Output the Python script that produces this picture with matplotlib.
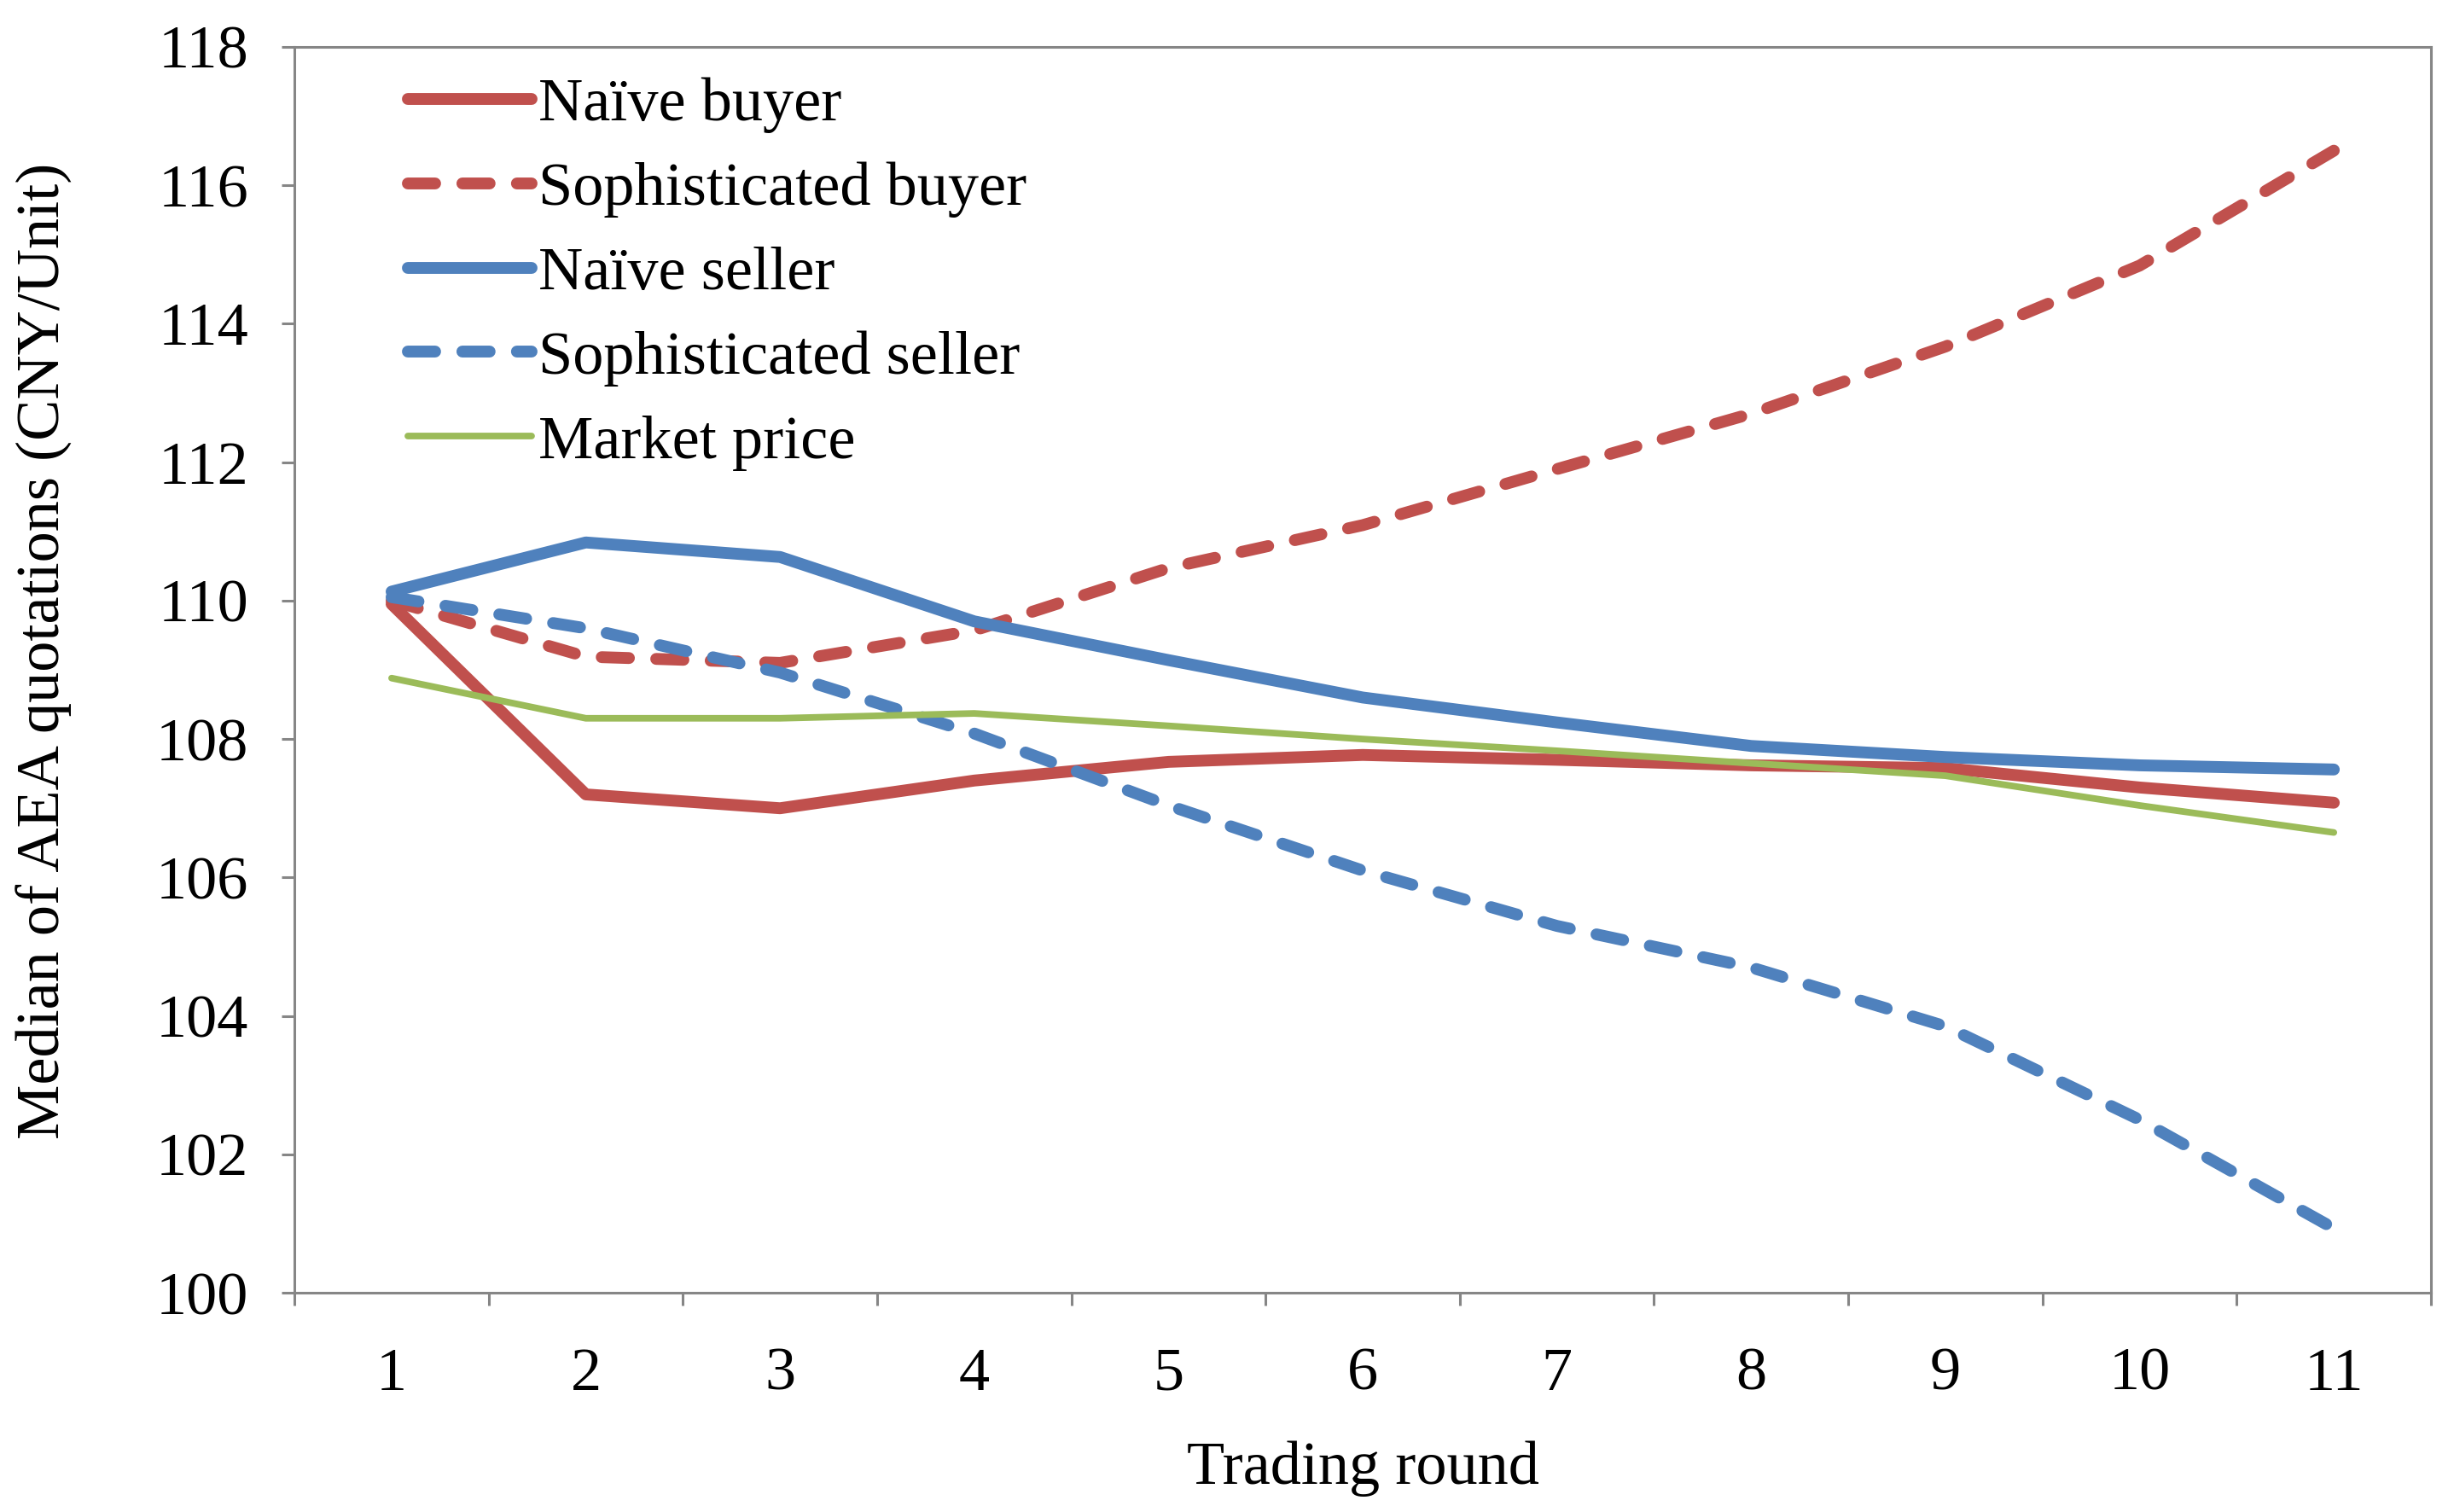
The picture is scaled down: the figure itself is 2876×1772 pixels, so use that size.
import matplotlib
matplotlib.use("Agg")
import matplotlib.pyplot as plt
import numpy as np

# trading rounds and median quotations
rounds = np.arange(1, 12)
naive_buyer = [109.95, 107.2, 107.0, 107.4, 107.67, 107.77, 107.7, 107.62, 107.58, 107.3, 107.08]
soph_buyer = [110.0, 109.19, 109.1, 109.57, 110.47, 111.09, 111.9, 112.7, 113.67, 114.84, 116.5]
naive_seller = [110.13, 110.84, 110.63, 109.7, 109.14, 108.6, 108.24, 107.9, 107.74, 107.62, 107.56]
soph_seller = [110.05, 109.6, 108.96, 108.08, 107.04, 106.1, 105.3, 104.7, 103.85, 102.5, 100.93]
market_price = [108.88, 108.3, 108.3, 108.37, 108.19, 108.0, 107.83, 107.65, 107.47, 107.04, 106.65]

red = "#C0504D"
blue = "#4F81BD"
green = "#9BBB59"
grey = "#868686"

plt.rcParams['font.family'] = ['Liberation Serif', 'DejaVu Serif']
fs = 26
fig = plt.figure(figsize=(14.38, 8.86), dpi=200)
ax = fig.add_axes([0.120, 0.145, 0.8706, 0.824])

lw = 5.0
ax.plot(rounds, naive_buyer, color=red, lw=lw, solid_capstyle='round', label="Naïve buyer")
ax.plot(rounds, soph_buyer, color=red, lw=lw, dashes=(2.3, 2.3), dash_capstyle='round', label="Sophisticated buyer")
ax.plot(rounds, naive_seller, color=blue, lw=lw, solid_capstyle='round', label="Naïve seller")
ax.plot(rounds, soph_seller, color=blue, lw=lw, dashes=(2.3, 2.3), dash_capstyle='round', label="Sophisticated seller")
ax.plot(rounds, market_price, color=green, lw=2.8, solid_capstyle='round', label="Market price")

ax.set_xlim(0.5, 11.5)
ax.set_ylim(100, 118)
ax.set_yticks(np.arange(100, 119, 2))
ax.set_xticks(np.arange(0.5, 12, 1))
ax.set_xticklabels([])
ax.set_xticks(rounds, minor=True)
ax.set_xticklabels([str(r) for r in rounds], minor=True)

for s in ax.spines.values():
    s.set_color(grey)
    s.set_linewidth(1.1)
ax.tick_params(axis='y', which='major', length=5.5, width=1.1, color=grey, labelsize=fs, pad=14)
ax.tick_params(axis='x', which='major', length=5.5, width=1.1, color=grey)
ax.tick_params(axis='x', which='minor', length=0, labelsize=fs, pad=23)

ax.set_xlabel("Trading round", fontsize=fs, labelpad=16)
ax.set_ylabel("Median of AEA quotations (CNY/Unit)", fontsize=fs)
ax.yaxis.set_label_coords(-0.104, 0.515)

ax.legend(loc='upper left', bbox_to_anchor=(0.033, 1.01), frameon=False, fontsize=fs,
          handlelength=2.0, handletextpad=0.12, labelspacing=0.46, borderaxespad=0.3)

fig.savefig("out.png", dpi=200)
